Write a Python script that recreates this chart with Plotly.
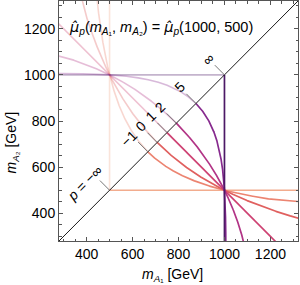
import numpy as np
import plotly.graph_objects as go

# ---- data ----
ref_point = [1000, 500]                       # (m_A1, m_A2) reference
p_values = [-np.inf, -1, 0, 1, 2, 5, np.inf]
p_labels = ["<i>p</i> = −∞", "−1", "0", "1", "2", "5", "∞"]
colors = ["#F2AC8E", "#EC8471", "#E0605F", "#CE4172", "#B23486", "#872A8E", "#4C1966"]
x_ticks = [400, 600, 800, 1000, 1200]
y_ticks = [400, 600, 800, 1000, 1200]
axis_range = [280, 1320]

a, b = ref_point
lo, hi = axis_range
ext = hi + 100


def power_mean(p, u, v):
    if p == -np.inf:
        return min(u, v)
    if p == np.inf:
        return max(u, v)
    if p == 0:
        return np.sqrt(u * v)
    return ((u ** p + v ** p) / 2) ** (1 / p)


def branch(p, M):
    """lower-right branch (x >= y) of the level curve mu_p(x,y)=M"""
    if p == -np.inf:
        return np.array([M, ext]), np.array([M, M])
    if p == np.inf:
        return np.array([M, M]), np.array([M, lo - 100])
    ys = np.linspace(M, lo - 50, 4000)
    with np.errstate(all="ignore"):
        if p == 0:
            xs = M * M / ys
        else:
            xs = (2 * M ** p - ys ** p) ** (1 / p)
    ok = np.isfinite(xs) & (xs > 0) & (xs < ext + 400)
    return xs[ok], ys[ok]


fig = go.Figure()
levels = []
for p, c in zip(p_values, colors):
    M = power_mean(p, a, b)
    levels.append(M)
    xs, ys = branch(p, M)
    # faded mirrored part (x < y)
    fig.add_trace(go.Scatter(x=ys, y=xs, mode="lines", opacity=0.32,
                             line=dict(color=c, width=1.6), hoverinfo="skip",
                             showlegend=False))
for p, c, M in zip(p_values, colors, levels):
    xs, ys = branch(p, M)
    fig.add_trace(go.Scatter(x=xs, y=ys, mode="lines",
                             line=dict(color=c, width=1.7), hoverinfo="skip",
                             showlegend=False))

# diagonal
fig.add_trace(go.Scatter(x=axis_range, y=axis_range, mode="lines",
                         line=dict(color="black", width=0.9), hoverinfo="skip",
                         showlegend=False))

annotations = []
lead = 42
off = 70
for p, lab, M in zip(p_values, p_labels, levels):
    fig.add_trace(go.Scatter(x=[M, M - lead], y=[M, M + lead], mode="lines",
                             line=dict(color="#777777", width=1), hoverinfo="skip",
                             showlegend=False))
    if p == -np.inf:
        shift = 38
    elif p == -1:
        shift = 14
    else:
        shift = 0
    annotations.append(dict(x=M - off - shift, y=M + off - shift, text=lab,
                            showarrow=False, textangle=-45,
                            font=dict(size=14, color="black"),
                            xanchor="center", yanchor="middle"))

mu = "<span style='font-family:DejaVu Sans'><i>μ̂</i></span>"
annotations.append(dict(x=722, y=1202,
                        text=f"{mu}<sub><i>p</i></sub>(<i>m</i><sub><i>A</i>₁</sub>, <i>m</i><sub><i>A</i>₂</sub>) = {mu}<sub><i>p</i></sub>(1000, 500)",
                        showarrow=False, font=dict(size=14.5, color="black"),
                        xanchor="center", yanchor="middle"))
annotations.append(dict(xref="paper", yref="paper", x=0.473, y=-0.14,
                        text="<i>m</i><sub><i>A</i>₁</sub> [GeV]", showarrow=False,
                        font=dict(size=14, color="black"),
                        xanchor="center", yanchor="middle"))
annotations.append(dict(xref="paper", yref="paper", x=-0.197, y=0.41,
                        text="<i>m</i><sub><i>A</i>₂</sub> [GeV]", showarrow=False,
                        textangle=-90, font=dict(size=14, color="black"),
                        xanchor="center", yanchor="middle"))

axis_common = dict(range=axis_range, showgrid=False, zeroline=False,
                   showline=True, linecolor="#555555", linewidth=1,
                   mirror="allticks", ticks="inside", ticklen=4, tickwidth=0.8,
                   tickcolor="#555555",
                   minor=dict(dtick=50, tick0=0, ticks="inside", ticklen=2.5,
                              tickwidth=0.8, tickcolor="#555555"),
                   tickfont=dict(size=14, color="black"))

fig.update_layout(
    width=300, height=285,
    margin=dict(l=59, r=2, t=1, b=44),
    paper_bgcolor="white", plot_bgcolor="white",
    font=dict(family="Liberation Sans, Arial, sans-serif"),
    xaxis=dict(tickvals=x_ticks, **axis_common),
    yaxis=dict(tickvals=y_ticks, **axis_common),
    annotations=annotations,
)

fig.write_html("out.html", config={"displayModeBar": False},
               post_script="document.body.style.margin='0';")
